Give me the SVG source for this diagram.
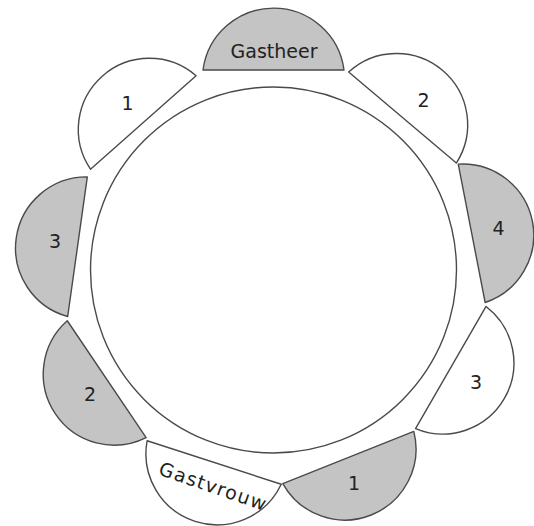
<svg xmlns="http://www.w3.org/2000/svg" width="534" height="526" viewBox="0 0 534 526">
<defs>
<style>
.seat{stroke:#4a4a4a;stroke-width:1.4;stroke-linejoin:round}
.grey{fill:#c4c4c4}
.white{fill:#ffffff}
.lbl{font-family:"DejaVu Sans","Liberation Sans",sans-serif;font-size:19px;fill:#222;text-anchor:middle}
.table{fill:#ffffff;stroke:#4a4a4a;stroke-width:1.4}
</style>
<path id="seat" d="M -70.5 0 A 71.1 71.1 0 0 1 70.5 0 Z"/>
</defs>
<rect width="534" height="526" fill="#ffffff"/>
<g id="table"><circle class="table" cx="273.5" cy="270" r="183"/></g>
<g id="chair-gastheer">
<use href="#seat" class="seat grey" transform="translate(273.5,70) rotate(0)"/>
<text class="lbl" x="274" y="57.5">Gastheer</text>
</g>
<g id="chair-tr-2">
<use href="#seat" class="seat white" transform="translate(402.5,117.5) rotate(40.2)"/>
<text class="lbl" x="423.5" y="106.5">2</text>
</g>
<g id="chair-r-4">
<use href="#seat" class="seat grey" transform="translate(471.7,233.3) rotate(79)"/>
<text class="lbl" x="498.5" y="234.5">4</text>
</g>
<g id="chair-rl-3">
<use href="#seat" class="seat white" transform="translate(450.8,367.5) rotate(120)"/>
<text class="lbl" x="476" y="389">3</text>
</g>
<g id="chair-br-1">
<use href="#seat" class="seat grey" transform="translate(348.3,457.5) rotate(158.3)"/>
<text class="lbl" x="354" y="490">1</text>
</g>
<g id="chair-gastvrouw">
<use href="#seat" class="seat white" transform="translate(214.2,462.5) rotate(198)"/>
<text class="lbl" transform="translate(213,487) rotate(19)" x="0" y="6" letter-spacing="1.3">Gastvrouw</text>
</g>
<g id="chair-ll-2">
<use href="#seat" class="seat grey" transform="translate(106.7,379.2) rotate(236)"/>
<text class="lbl" x="90" y="400.5">2</text>
</g>
<g id="chair-l-3">
<use href="#seat" class="seat grey" transform="translate(77.5,246.7) rotate(278)"/>
<text class="lbl" x="55" y="248">3</text>
</g>
<g id="chair-tl-1">
<use href="#seat" class="seat white" transform="translate(143.3,122.5) rotate(318.5)"/>
<text class="lbl" x="127.5" y="109.5">1</text>
</g>
</svg>
